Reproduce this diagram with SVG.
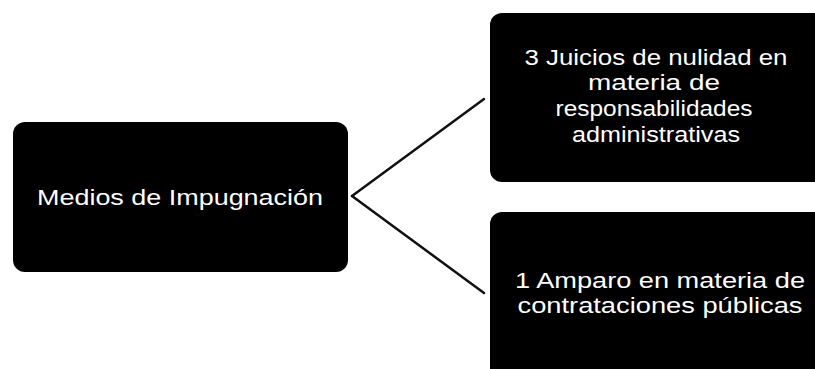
<svg xmlns="http://www.w3.org/2000/svg" width="815" height="369" viewBox="0 0 815 369">
<style>
.box{fill:#000;}
.t{fill:#fff;font-family:"Liberation Sans","DejaVu Sans",sans-serif;font-size:22px;text-anchor:middle;}
.c{stroke:#111;stroke-width:2.5;fill:none;stroke-linecap:round;}
</style>
<rect width="815" height="369" fill="#fff"/>
<g id="connectors">
<line class="c" x1="352" y1="196" x2="484" y2="99"/>
<line class="c" x1="352" y1="196" x2="484" y2="293"/>
</g>
<g id="medios">
<rect class="box" x="13" y="122" width="335" height="150" rx="12"/>
<text class="t" x="180" y="205" textLength="286" lengthAdjust="spacingAndGlyphs">Medios de Impugnación</text>
</g>
<g id="juicios">
<rect class="box" x="490" y="13" width="340" height="169" rx="12"/>
<text class="t" x="656" y="65" textLength="263" lengthAdjust="spacingAndGlyphs">3 Juicios de nulidad en</text>
<text class="t" x="654" y="90" textLength="132" lengthAdjust="spacingAndGlyphs">materia de</text>
<text class="t" x="654" y="116" textLength="197" lengthAdjust="spacingAndGlyphs">responsabilidades</text>
<text class="t" x="656" y="142" textLength="168" lengthAdjust="spacingAndGlyphs">administrativas</text>
</g>
<g id="amparo">
<rect class="box" x="490" y="212" width="340" height="170" rx="12"/>
<text class="t" x="660" y="288" textLength="290" lengthAdjust="spacingAndGlyphs">1 Amparo en materia de</text>
<text class="t" x="660" y="313" textLength="285" lengthAdjust="spacingAndGlyphs">contrataciones públicas</text>
</g>
</svg>
